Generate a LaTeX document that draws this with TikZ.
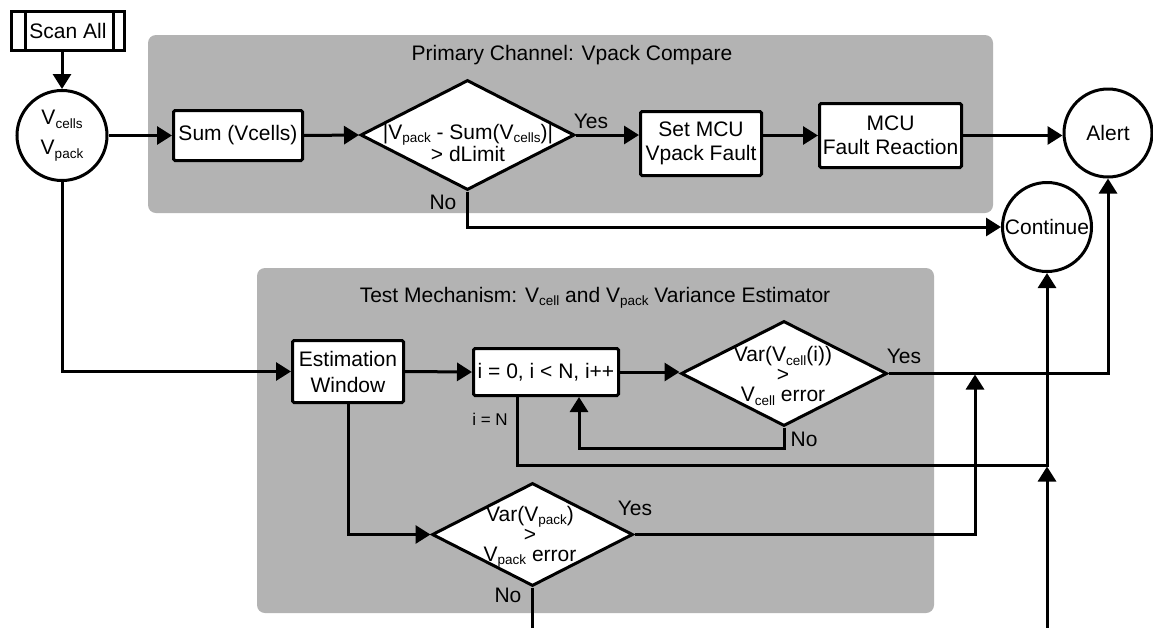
\documentclass[tikz,border=0pt]{standalone}
\usepackage{fontspec}
\setmainfont{Liberation Sans}
\usetikzlibrary{arrows.meta,shapes.geometric,calc}
\definecolor{panelgray}{RGB}{179,179,179}
% lowered, smaller subscript text
\newcommand\lowsub[1]{\raisebox{-3.5pt}{\fontsize{13.5}{13.5}\selectfont #1}}
\tikzset{
  heavy/.style={line width=3pt},
  box/.style={heavy, draw, fill=white, rectangle, rounded corners=1.5pt,
    inner sep=0pt, align=center, font=\fontsize{21}{24}\selectfont},
  term/.style={heavy, draw, fill=white, circle, inner sep=0pt, align=center,
    font=\fontsize{21}{30}\selectfont},
  decision/.style={heavy, draw, fill=white, diamond, inner sep=0pt},
  dtext/.style={align=center, inner sep=0pt, font=\fontsize{21}{20}\selectfont},
  lbl/.style={inner sep=0pt, font=\fontsize{21}{24}\selectfont},
  smalllbl/.style={inner sep=0pt, font=\fontsize{17}{18}\selectfont},
  title/.style={inner sep=0pt, font=\fontsize{21}{24}\selectfont},
  panel/.style={fill=panelgray, rounded corners=8pt},
  arr/.style={heavy, -{Triangle[length=15pt,width=18pt]}}
}
\begin{document}
\begin{tikzpicture}[x=1pt,y=-1pt]
  \clip (0,0) rectangle (1153,627);
  \fill[white] (0,0) rectangle (1153,627);

  % panels
  \fill[panel] (148,35) rectangle (993,213);
  \fill[panel] (257,268) rectangle (934,613);
  \node[title] (t1) at (572,55) {Primary Channel: Vpack Compare};
  \node[title] (t2) at (595,298) {Test Mechanism: V\lowsub{cell} and V\lowsub{pack} Variance Estimator};

  % start
  \node[box, rounded corners=0pt, minimum width=113pt, minimum height=39pt] (scan) at (68,31) {Scan All};
  \draw[heavy] ([xshift=15pt]scan.north west) -- ([xshift=15pt]scan.south west);
  \draw[heavy] ([xshift=-13pt]scan.north east) -- ([xshift=-13pt]scan.south east);

  \node[term, minimum size=90pt] (vc) at (62,135.5) {V\lowsub{cells}\\V\lowsub{pack}};

  % primary channel
  \node[box, minimum width=129pt, minimum height=50pt] (sum) at (238,135.5) {Sum (Vcells)};
  \node[decision, minimum width=214pt, minimum height=110pt] (d1) at (467.5,135) {};
  \node[dtext] (d1t) at (468,143) {|V\lowsub{pack} - Sum(V\lowsub{cells})|\\> dLimit};
  \node[box, minimum width=121pt, minimum height=64pt] (set) at (701,143.5) {Set MCU\\Vpack Fault};
  \node[box, minimum width=142pt, minimum height=64pt] (mcu) at (890.5,135.5) {MCU\\Fault Reaction};

  \node[term, minimum size=88pt, font=\fontsize{21}{24}\selectfont] (alert) at (1108,133) {Alert};
  \node[term, minimum size=89pt, font=\fontsize{21}{24}\selectfont] (cont) at (1047,227) {Continue};

  % test mechanism
  \node[box, minimum width=111pt, minimum height=62pt, font=\fontsize{21}{26}\selectfont] (est) at (348,371.5) {Estimation\\Window};
  \node[box, minimum width=145pt, minimum height=47pt] (loop) at (546,372) {i = 0, i < N, i++};
  \node[decision, minimum width=206pt, minimum height=105pt] (d2) at (784,373.5) {};
  \node[dtext] (d2t) at (783,376) {Var(V\lowsub{cell}(i))\\>\\V\lowsub{cell} error};
  \node[decision, minimum width=201pt, minimum height=103pt] (d3) at (532.5,534.5) {};
  \node[dtext] (d3t) at (530,537) {Var(V\lowsub{pack})\\>\\V\lowsub{pack} error};

  % labels
  \node[lbl] (y1) at (591,121) {Yes};
  \node[lbl] (n1) at (443,202) {No};
  \node[lbl] (y2) at (904,356) {Yes};
  \node[lbl] (n2) at (804,439) {No};
  \node[lbl] (y3) at (635,508) {Yes};
  \node[lbl] (n3) at (508,595) {No};
  \node[smalllbl] (iN) at (490,419) {i = N};

  % junction points
  \coordinate (jn) at (cont.south |- 0,465);
  \coordinate (jy) at (975,373);

  % connectors
  \draw[arr] (vc.north |- scan.south) -- (vc.north);
  \draw[arr] (vc.east) -- (sum.west);
  \draw[arr] (sum.east) -- (d1.west);
  \draw[arr] (d1.east) -- (d1.east -| set.west);
  \draw[arr] (mcu.west -| set.east) -- (mcu.west);
  \draw[arr] (mcu.east) -- (mcu.east -| alert.west);
  \draw[arr] (d1.south) |- (cont.west);

  \draw[arr] (vc.south) |- (est.west);
  \draw[arr] (est.east) -- (loop.west);
  \draw[arr] (loop.east) -- (loop.east -| d2.west);
  \draw[arr] (d2.east) -| (alert.south);
  \draw[arr] (d2.south) -- ++(0,21) -| ([xshift=33pt]loop.south);
  \draw[arr] ([xshift=-29pt]loop.south) |- (jn) -- (cont.south);
  \draw[arr] (est.south) |- (d3.west);
  \draw[arr] (d3.east) -| ([yshift=-1.5pt]jy);
  \draw[arr] (d3.south) -- (d3.south |- 0,629.3) -| ([yshift=-1.5pt]jn);
\end{tikzpicture}
\end{document}
